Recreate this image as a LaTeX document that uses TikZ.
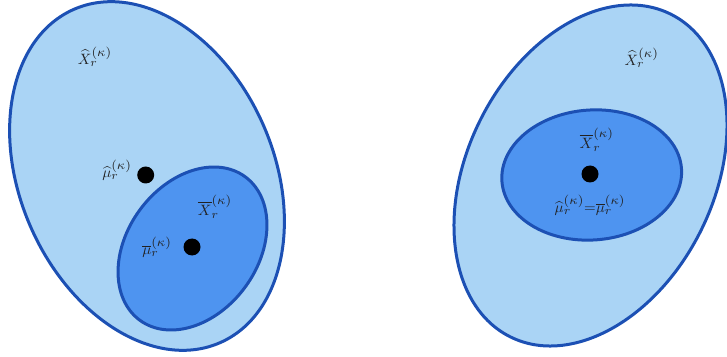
\documentclass[tikz,border=0pt]{standalone}
\usepackage{amsmath}
\definecolor{outerfill}{HTML}{AAD4F5}
\definecolor{innerfill}{HTML}{4E94F0}
\definecolor{edgeblue}{HTML}{1C50B4}
\definecolor{txt}{HTML}{222222}
\newcommand{\kapsup}{\raisebox{0.6pt}{\scalebox{1.2}{$\scriptstyle(\kappa)$}}}
\newcommand{\rsub}{\scalebox{1.1}{$\scriptstyle r$}}
\begin{document}
\begin{tikzpicture}[x=1pt,y=1pt,
  region/.style={draw=edgeblue,line width=3pt},
  outerset/.style={region,fill=outerfill},
  innerset/.style={region,fill=innerfill},
  dotpt/.style={circle,fill=black,inner sep=0pt,minimum size=17pt},
  lbl/.style={text=txt,inner sep=0pt}]
\useasboundingbox (0,0) rectangle (727,356);
% left
\draw[outerset,rotate around={23.7:(147,180)}] (147,180) ellipse [x radius=127,y radius=182];
\draw[innerset,rotate around={-36.3:(192.5,107.5)}] (192.5,107.5) ellipse [x radius=65.3,y radius=89];
\node[lbl] (lhx) at (95,299) {\scalebox{1.5}{$\widehat{X}_{\rsub}^{\kapsup}$}};
\node[dotpt] (ld1) at (145.7,181) {};
\node[lbl] (lhm) at (117,186) {\scalebox{1.5}{$\widehat{\mu}_{\rsub}^{\kapsup}$}};
\node[lbl] (lbx) at (215,149) {\scalebox{1.5}{$\overline{X}_{\rsub}^{\kapsup}$}};
\node[dotpt] (ld2) at (192,109) {};
\node[lbl] (lbm) at (157,109) {\scalebox{1.5}{$\overline{\mu}_{\rsub}^{\kapsup}$}};
% right
\draw[outerset,rotate around={-26.4:(590.5,180.5)}] (590.5,180.5) ellipse [x radius=123.4,y radius=180.2];
\draw[innerset,rotate around={4:(591.7,181)}] (591.7,181) ellipse [x radius=90,y radius=65];
\node[lbl] (rhx) at (641.7,298) {\scalebox{1.5}{$\widehat{X}_{\rsub}^{\kapsup}$}};
\node[lbl] (rbx) at (596.7,216) {\scalebox{1.5}{$\overline{X}_{\rsub}^{\kapsup}$}};
\node[dotpt] (rd) at (590,182) {};
\node[lbl] (req) at (590,151) {\scalebox{1.5}{$\widehat{\mu}_{\rsub}^{\kapsup}{=}\overline{\mu}_{\rsub}^{\kapsup}$}};
\end{tikzpicture}
\end{document}
